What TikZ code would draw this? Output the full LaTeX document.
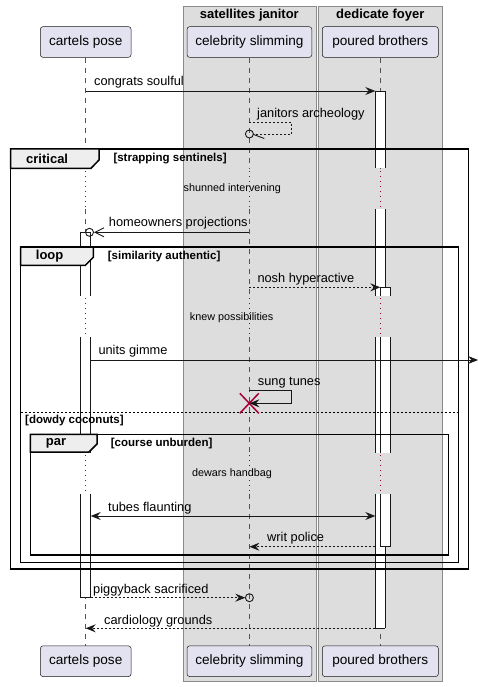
\documentclass[tikz,border=0pt]{standalone}
\usepackage{fontspec}
\setmainfont{Liberation Sans}
\usetikzlibrary{arrows.meta}
\definecolor{partfill}{HTML}{E2E2F0}
\definecolor{partline}{HTML}{181818}
\definecolor{boxfill}{HTML}{DDDDDD}
\definecolor{boxline}{HTML}{8A8A8A}
\definecolor{tabfill}{HTML}{EEEEEE}
\definecolor{delayred}{HTML}{A80036}
\newcommand\actpiece[4]{%
  \fill[white] (#1,#3) rectangle (#2,#4);
  \draw[actline] (#1,#3) -- (#1,#4) (#2,#3) -- (#2,#4);}
\begin{document}
\begin{tikzpicture}[x=1pt,y=-1pt,
  >={Stealth[length=10pt,width=8pt,inset=3.5pt]},
  part/.style={draw=partline, line width=0.5pt, fill=partfill, rounded corners=2.5pt,
    minimum height=30.6pt, inner sep=0pt, font=\fontsize{13.6}{16}\selectfont},
  grpbox/.style={draw=boxline, line width=0.8pt, fill=boxfill},
  ttl/.style={font=\bfseries\fontsize{13}{15}\selectfont, inner sep=0pt},
  lifeline/.style={draw=partline!75, line width=0.5pt, dash pattern=on 5pt off 5pt},
  delay/.style={draw=delayred, line width=0.8pt, dash pattern=on 1pt off 4pt},
  actline/.style={draw=partline, line width=0.9pt},
  frm/.style={draw=black, line width=1.5pt},
  elsel/.style={draw=black, line width=0.8pt, dash pattern=on 2pt off 2pt},
  msgl/.style={draw=partline, line width=0.9pt},
  dmsgl/.style={draw=partline, line width=0.9pt, dash pattern=on 2pt off 2pt},
  msg/.style={font=\fontsize{12.8}{15}\selectfont, inner sep=0pt, anchor=west, yshift=-0.8pt},
  dly/.style={font=\fontsize{10.8}{13}\selectfont, inner sep=0pt},
  cond/.style={font=\bfseries\fontsize{11.5}{14}\selectfont, inner sep=0pt, anchor=west},
  tablbl/.style={font=\bfseries\fontsize{13}{15}\selectfont, inner sep=0pt, anchor=west},
  xmark/.style={draw=delayred, line width=1.5pt},
  endcirc/.style={draw=partline, line width=0.9pt}
]
\useasboundingbox (0,0) rectangle (478,687);
% group boxes
\draw[grpbox] (183.3,6) rectangle (316.3,681.7);
\draw[grpbox] (318,6) rectangle (442.3,681.7);
\node[ttl] (g1) at (249.3,15.5) {satellites janitor};
\node[ttl] (g2) at (380.3,15.5) {dedicate foyer};
% participants
\node[part, minimum width=90.6pt] (aT) at (85.7,42) {cartels pose};
\node[part, minimum width=124.7pt] (bT) at (249.4,42) {celebrity slimming};
\node[part, minimum width=116pt] (cT) at (380.3,42) {poured brothers};
\node[part, minimum width=90.6pt] (aB) at (85.7,661.2) {cartels pose};
\node[part, minimum width=124.7pt] (bB) at (249.4,661.2) {celebrity slimming};
\node[part, minimum width=116pt] (cB) at (380.3,661.2) {poured brothers};
% lifelines
\foreach \t/\b in {aT/aB,bT/bB,cT/cB}{
  \draw[lifeline] (\t.south) -- (\t |- 0,169);
  \draw[delay] (\t |- 0,171) -- (\t |- 0,209);
  \draw[lifeline] (\t |- 0,209) -- (\t |- 0,296);
  \draw[delay] (\t |- 0,298) -- (\t |- 0,337);
  \draw[lifeline] (\t |- 0,337) -- (\t |- 0,453);
  \draw[delay] (\t |- 0,455) -- (\t |- 0,494);
  \draw[lifeline] (\t |- 0,494) -- (\b.north);
}
% activations: poured brothers outer
\actpiece{375.3}{385.3}{91}{168.5}
\actpiece{375.3}{385.3}{209}{295.7}
\actpiece{375.3}{385.3}{337.3}{452.7}
\actpiece{375.3}{385.3}{494}{628.3}
\draw[actline] (375.3,91) -- (385.3,91) (375.3,628.3) -- (385.3,628.3);
% poured brothers nested
\actpiece{380.3}{390.3}{287.3}{295.7}
\actpiece{380.3}{390.3}{337.3}{452.7}
\actpiece{380.3}{390.3}{494}{546.7}
\draw[actline] (380.3,287.3) -- (390.3,287.3) (380.3,546.7) -- (390.3,546.7);
% cartels pose
\actpiece{80.7}{90.7}{232.3}{295.7}
\actpiece{80.7}{90.7}{337.3}{452.7}
\actpiece{80.7}{90.7}{494}{597.7}
\draw[actline] (80.7,232.3) -- (90.7,232.3) (80.7,597.7) -- (90.7,597.7);
% frames
\draw[frm] (10.7,149) rectangle (468.7,569);
\draw[frm, fill=tabfill] (10.7,149) -- (99,149) -- (99,160) -- (91,168.3) -- (10.7,168.3) -- cycle;
\node[tablbl] (fcrit) at (26,158.7) {critical};
\node[cond] (ccrit) at (113.3,159) {[strapping sentinels]};
\draw[frm] (20.7,247) rectangle (458.3,562.7);
\draw[frm, fill=tabfill] (20.7,247) -- (93.3,247) -- (93.3,257.3) -- (85.3,265.3) -- (20.7,265.3) -- cycle;
\node[tablbl] (floop) at (35.7,256.5) {loop};
\node[cond] (cloop) at (107.7,256.7) {[similarity authentic]};
\draw[elsel] (20.7,412.3) -- (458.3,412.3);
\node[cond] (celse) at (25,420.3) {[dowdy coconuts]};
\draw[frm] (30.3,434.3) rectangle (448.7,555);
\draw[frm, fill=tabfill] (30.3,434.3) -- (97,434.3) -- (97,444) -- (89,452) -- (30.3,452) -- cycle;
\node[tablbl] (fpar) at (45.7,443.5) {par};
\node[cond] (cpar) at (110.7,444) {[course unburden]};
% messages
\draw[msgl,->] (aT |- 0,91) -- (375.3,91);
\node[msg] (m1) at (94,81) {congrats soulful};
\draw[dmsgl] (bT |- 0,122) -- (291.7,122) -- (291.7,134) -- (253.3,134);
\draw[endcirc] (bT |- 0,134) circle (4pt);
\draw[msgl] (253,134.3) -- (264.3,138.5);
\node[msg] (m2) at (257,113.3) {janitors archeology};
\node[dly] (d1) at (232.3,189) {shunned intervening};
\draw[msgl,-{Straight Barb[length=9pt,width=9pt]}] (bT |- 0,232.3) -- (94,232.3);
\draw[endcirc] (89.5,232.3) circle (4pt);
\node[msg] (m3) at (108.7,222.3) {homeowners projections};
\draw[dmsgl,->] (bT |- 0,287.3) -- (380.3,287.3);
\node[msg] (m4) at (257.3,278.3) {nosh hyperactive};
\node[dly] (d2) at (231.7,317.3) {knew possibilities};
\coordinate (outR) at (478,360);
\draw[msgl,->] (90.7,360) -- (outR);
\node[msg] (m5) at (98.3,350.7) {units gimme};
\draw[xmark] (239.8,393.3) -- (258.8,413.3) (258.8,393.3) -- (239.8,413.3);
\draw[msgl,->] (bT |- 0,390) -- (291.7,390) -- (291.7,403.3) -- (bT |- 0,403.3);
\node[msg] (m6) at (257.7,381.7) {sung tunes};
\node[dly] (d3) at (232,474) {dewars handbag};
\draw[msgl,<->] (90.7,516) -- (375.3,516);
\node[msg] (m7) at (108,507.7) {tubes flaunting};
\draw[dmsgl,->] (375.3,546.7) -- (bT |- 0,546.7);
\node[msg] (m8) at (267,537.3) {writ police};
\draw[dmsgl,->] (90.7,597.7) -- (245.3,597.7);
\draw[endcirc] (bT |- 0,597.7) circle (4pt);
\node[msg] (m9) at (93,589.3) {piggyback sacrificed};
\draw[dmsgl,->] (375.3,628.3) -- (aT |- 0,628.3);
\node[msg] (m10) at (104,620) {cardiology grounds};
\end{tikzpicture}
\end{document}
